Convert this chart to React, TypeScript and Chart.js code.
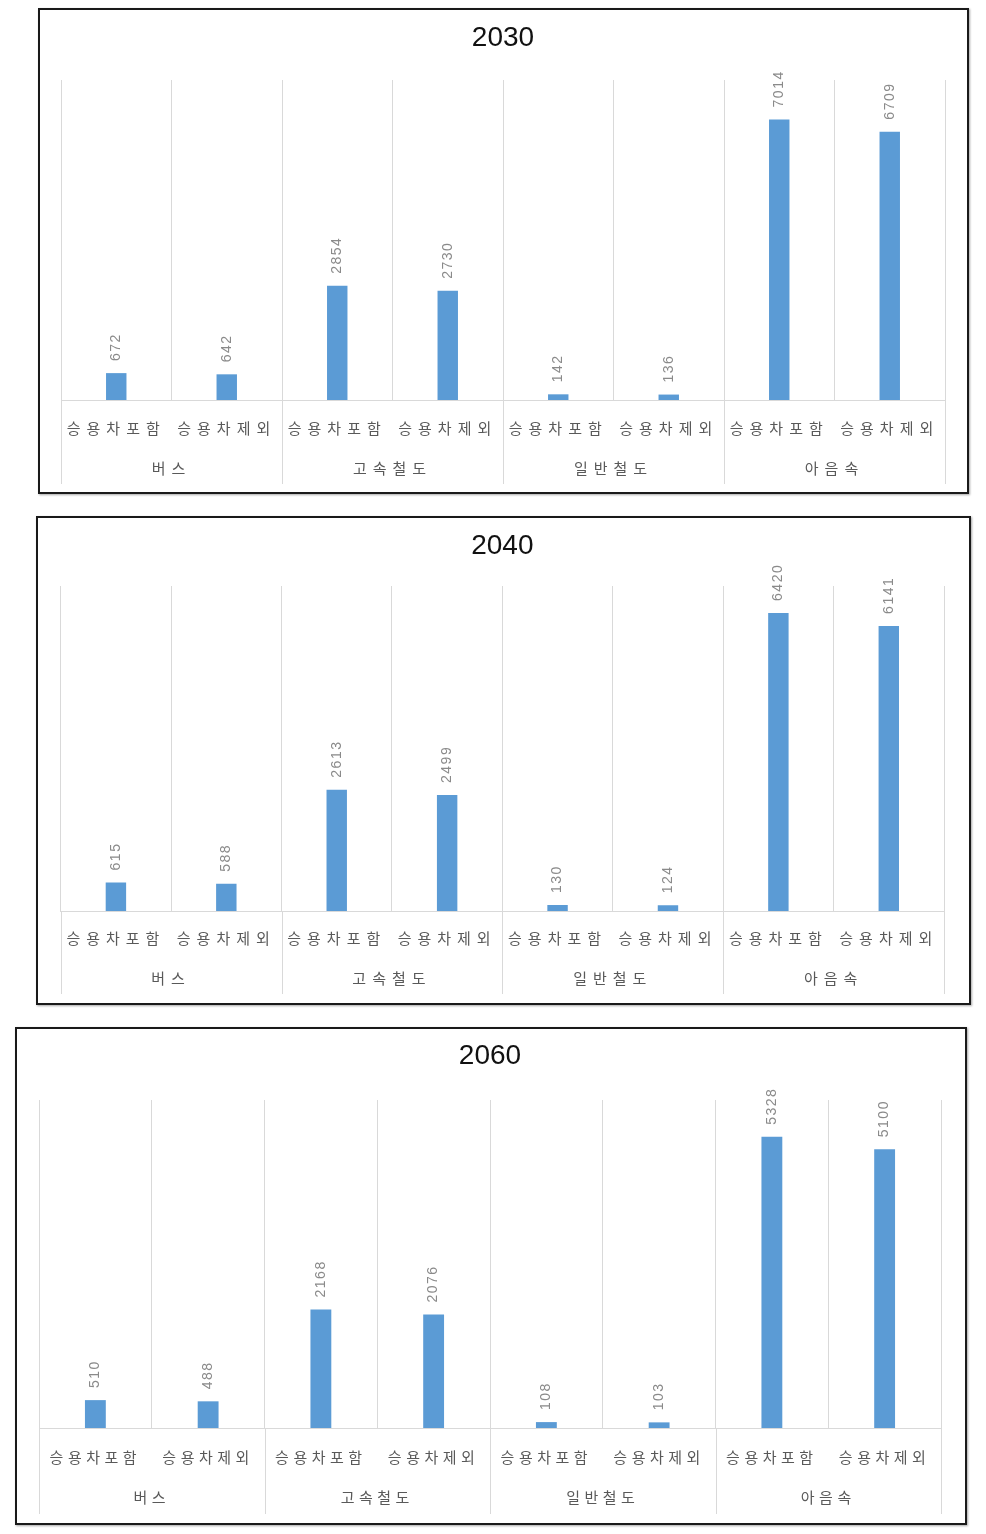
import React, { useEffect, useRef } from "react";
import { Chart, registerables } from "chart.js";

Chart.register(...registerables);

// ---- data ----
const categories = [
  "승용차포함", "승용차제외",
  "승용차포함", "승용차제외",
  "승용차포함", "승용차제외",
  "승용차포함", "승용차제외",
];
const groups = ["버스", "고속철도", "일반철도", "아음속"];
const years = ["2030", "2040", "2060"];
const values2030 = [672, 642, 2854, 2730, 142, 136, 7014, 6709];
const values2040 = [615, 588, 2613, 2499, 130, 124, 6420, 6141];
const values2060 = [510, 488, 2168, 2076, 108, 103, 5328, 5100];
const axisMax = [8000, 7000, 6000];

// ---- layout (page pixels) ----
const layouts = [
  { left: 38, top: 8, width: 931, height: 486, padL: 21, padR: 22, titleY: 28, plotTop: 70, axisY: 390, catDy: 28, groupDy: 68, lineDy: 84, spacing: 6 },
  { left: 36, top: 516, width: 935, height: 489, padL: 22.7, padR: 25, titleY: 28, plotTop: 68, axisY: 393, catDy: 27, groupDy: 67, lineDy: 83, spacing: 6 },
  { left: 15, top: 1027, width: 952, height: 498, padL: 22, padR: 24, titleY: 27.5, plotTop: 71, axisY: 399, catDy: 29, groupDy: 69, lineDy: 86, spacing: 4.5 },
];

const seriesByYear = [values2030, values2040, values2060];

const BAR = "#5B9BD5";
const GRID = "#d9d9d9";
const KFONT = "'Noto Sans CJK KR', 'Noto Sans', sans-serif";
const TITLE_FONT = "'Liberation Sans', Arial, sans-serif";
const TITLE_SIZE = 28;
const CAT_SIZE = 15;
const X_H = 48;

function Panel({ idx }: { idx: number }) {
  const ref = useRef<HTMLCanvasElement>(null);
  const L = layouts[idx];
  const values = seriesByYear[idx];
  const cw = L.width - 4;
  const ch = L.height - 4;

  useEffect(() => {
    const canvas = ref.current!;
    const spacing = L.spacing + "px";
    const titleLH = TITLE_SIZE * 1.2;
    const titlePadTop = L.titleY - titleLH / 2;
    const titlePadBottom = L.plotTop - titleLH - titlePadTop;
    const half = (CAT_SIZE * 1.2) / 2;
    const padBottom = ch - L.lineDy - L.axisY;

    const decor = {
      id: "decor" + idx,
      afterDatasetsDraw(chart: any) {
        const ctx = chart.ctx as CanvasRenderingContext2D;
        const meta = chart.getDatasetMeta(0);
        ctx.save();
        (ctx as any).letterSpacing = "1.5px";
        ctx.font = "14px 'Liberation Sans', sans-serif";
        ctx.fillStyle = "#8a8a8a";
        ctx.textAlign = "left";
        ctx.textBaseline = "middle";
        meta.data.forEach((bar: any, i: number) => {
          ctx.save();
          ctx.translate(bar.x, bar.y - 12);
          ctx.rotate(-Math.PI / 2);
          ctx.fillText(String(values[i]), 0, 0);
          ctx.restore();
        });
        ctx.restore();

        // group separators through the label rows
        const x2 = chart.scales.x2;
        const gw = x2.getPixelForTick(1) - x2.getPixelForTick(0);
        ctx.save();
        ctx.strokeStyle = GRID;
        ctx.lineWidth = 1;
        ctx.beginPath();
        for (let g = 0; g <= groups.length; g++) {
          const px = g < groups.length ? x2.getPixelForTick(g) - gw / 2 : x2.getPixelForTick(groups.length - 1) + gw / 2;
          const ax = Math.round(px) + 0.5;
          ctx.moveTo(ax, chart.chartArea.bottom);
          ctx.lineTo(ax, x2.bottom);
        }
        ctx.stroke();
        ctx.restore();

        (ctx as any).letterSpacing = spacing;
      },
      afterDraw(chart: any) {
        (chart.ctx as any).letterSpacing = "0px";
      },
    };

    const chart = new Chart(canvas, {
      type: "bar",
      data: {
        labels: categories,
        datasets: [
          {
            data: values,
            backgroundColor: BAR,
            barPercentage: 0.185,
            categoryPercentage: 1,
          },
        ],
      },
      options: {
        responsive: false,
        animation: false,
        devicePixelRatio: 1,
        layout: { padding: { left: L.padL, right: L.padR, top: 0, bottom: padBottom } },
        plugins: {
          legend: { display: false },
          tooltip: { enabled: false },
          title: {
            display: true,
            text: years[idx],
            color: "#111",
            font: { family: TITLE_FONT, size: TITLE_SIZE, weight: "normal" },
            padding: { top: titlePadTop, bottom: titlePadBottom },
          },
        },
        scales: {
          y: { display: false, min: 0, max: axisMax[idx] },
          x: {
            weight: 0,
            offset: true,
            grid: { color: GRID, drawTicks: false, offset: true },
            border: { color: GRID },
            ticks: {
              z: 1,
              padding: L.catDy - half,
              color: "#595959",
              font: { family: KFONT, size: CAT_SIZE },
              maxRotation: 0,
              minRotation: 0,
              autoSkip: false,
            },
            afterFit: (s: any) => {
              s.height = X_H;
            },
          },
          x2: {
            type: "category",
            labels: groups,
            position: "bottom",
            weight: 1,
            offset: true,
            grid: { display: false, drawTicks: false },
            border: { display: false },
            ticks: {
              z: 1,
              padding: L.groupDy - X_H - half,
              color: "#595959",
              font: { family: KFONT, size: CAT_SIZE },
              maxRotation: 0,
              minRotation: 0,
              autoSkip: false,
            },
            afterFit: (s: any) => {
              s.height = L.lineDy - X_H;
            },
          },
        },
      } as any,
      plugins: [decor],
    });
    return () => chart.destroy();
  }, [idx]);

  return (
    <div
      style={{
        position: "absolute",
        left: L.left,
        top: L.top,
        width: L.width,
        height: L.height,
        boxSizing: "border-box",
        border: "2px solid #1a1a1a",
        boxShadow: "1px 1px 2px rgba(0,0,0,0.35)",
        background: "#fff",
      }}
    >
      <canvas ref={ref} width={cw} height={ch} style={{ display: "block", width: cw, height: ch }} />
    </div>
  );
}

export default function App() {
  return (
    <div
      style={{
        position: "absolute",
        left: 0,
        top: 0,
        width: 986,
        height: 1534,
        background: "#fff",
        overflow: "hidden",
      }}
    >
      {years.map((_, i) => (
        <Panel key={i} idx={i} />
      ))}
    </div>
  );
}
